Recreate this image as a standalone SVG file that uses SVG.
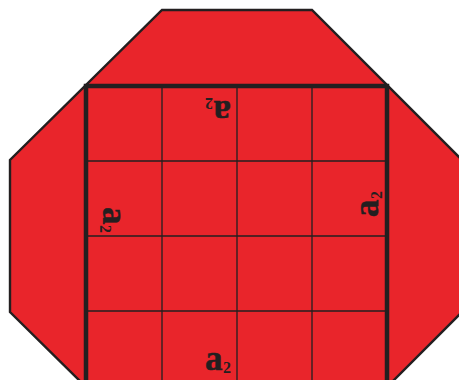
<svg xmlns="http://www.w3.org/2000/svg" width="459" height="380" viewBox="0 0 459 380">
<style>
.oct{fill:#e9252b;stroke:#231f20;stroke-width:2.4;stroke-linejoin:miter}
.sq{fill:none;stroke:#231f20;stroke-width:4.5}
.grid{stroke:#231f20;stroke-width:1.3;fill:none}
.a{font-family:"Liberation Serif",serif;font-weight:bold;font-size:35px;fill:#231f20;stroke:#231f20;stroke-width:0.5}
.s{font-family:"Liberation Serif",serif;font-weight:bold;font-size:16px;fill:#231f20}
</style>
<rect width="459" height="380" fill="#ffffff"/>
<g id="octagon">
<polygon class="oct" points="162,10 312,10 462,160 462,312 312,462 162,462 10,312 10,160"/>
</g>
<g id="grid">
<path class="grid" d="M162,86V400M237,86V400M312,86V400M86,161H387M86,236H387M86,311H387"/>
<rect class="sq" x="86" y="86" width="301" height="320"/>
</g>
<g id="label-top" transform="translate(231,101) rotate(180)">
<text class="a" x="0" y="0">a</text><text class="s" x="18" y="3.5">2</text>
</g>
<g id="label-left" transform="translate(103,207) rotate(90)">
<text class="a" x="0" y="0">a</text><text class="s" x="18" y="3.5">2</text>
</g>
<g id="label-right" transform="translate(378,217) rotate(-90)">
<text class="a" x="0" y="0">a</text><text class="s" x="18" y="3.5">2</text>
</g>
<g id="label-bottom" transform="translate(205,369.5)">
<text class="a" x="0" y="0">a</text><text class="s" x="18" y="3.5">2</text>
</g>
</svg>
